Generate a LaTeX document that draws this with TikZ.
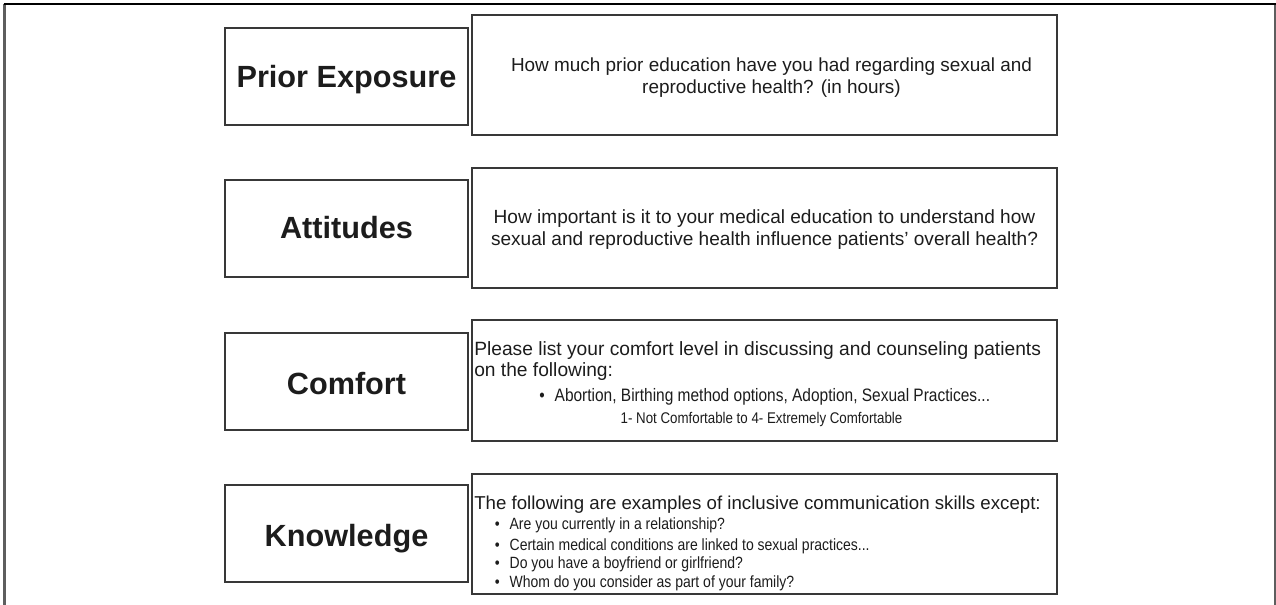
\documentclass[tikz,border=0pt]{standalone}
\usepackage{fontspec}
\setmainfont{Liberation Sans}
\newfontfamily\narrowfont[FakeStretch=0.86]{Liberation Sans}
\definecolor{boxline}{HTML}{383838}
\definecolor{ink}{HTML}{1C1C1C}
\definecolor{edge}{HTML}{5E5E5E}
\begin{document}
\begin{tikzpicture}[x=0.75pt,y=-0.75pt,
  labelbox/.style={draw=boxline, line width=1.7pt, minimum width=182.25pt, minimum height=72.75pt, inner sep=0pt},
  qbox/.style={draw=boxline, line width=1.5pt, minimum width=438.75pt, minimum height=90pt, inner sep=0pt},
  labeltext/.style={font=\fontsize{23}{27}\selectfont\bfseries, text=ink, inner sep=0pt, anchor=base},
  qline/.style={font=\fontsize{14.2}{17}\selectfont, text=ink, inner sep=0pt},
  bulletline/.style={font=\narrowfont\fontsize{13.5}{16}\selectfont, text=ink, inner sep=0pt},
  smallline/.style={font=\narrowfont\fontsize{12.2}{15}\selectfont, text=ink, inner sep=0pt},
  tinyline/.style={font=\narrowfont\fontsize{11.6}{14}\selectfont, text=ink, inner sep=0pt}]
\useasboundingbox (0,0) rectangle (1276,605);
% page frame
\draw[edge, line width=1.6pt] (4.5,4) -- (4.5,605);
\draw[edge, line width=1.2pt] (1274.8,4) -- (1274.8,605);
\draw[black, line width=1.8pt] (3.5,4.2) -- (1275.5,4.2);

% row 1: prior exposure
\node[labelbox] (lb1) at (346.5,76.5) {};
\node[qbox] (qb1) at (764.5,75.5) {};
\node[labeltext] (lt1) at (346.5,88) {Prior Exposure};
\node[qline, anchor=base] (q1a) at (771.5,72) {How much prior education have you had regarding sexual and};
\node[qline, anchor=base] (q1b) at (771.5,94) {reproductive health? (in hours)};

% row 2: attitudes
\node[labelbox] (lb2) at (346.5,228.5) {};
\node[qbox] (qb2) at (764.5,228) {};
\node[labeltext] (lt2) at (346.5,239) {Attitudes};
\node[qline, anchor=base, font=\fontsize{14.3}{17}\selectfont] (q2a) at (764.5,224) {How important is it to your medical education to understand how};
\node[qline, anchor=base, font=\fontsize{14.3}{17}\selectfont] (q2b) at (764.5,246) {sexual and reproductive health influence patients’ overall health?};

% row 3: comfort
\node[labelbox] (lb3) at (346.5,381.5) {};
\node[qbox] (qb3) at (764.5,380.5) {};
\node[labeltext] (lt3) at (346.5,394) {Comfort};
\node[qline, anchor=base west, font=\fontsize{14.4}{17}\selectfont] (q3a) at (474,356) {Please list your comfort level in discussing and counseling patients};
\node[qline, anchor=base west, font=\fontsize{14.4}{17}\selectfont] (q3b) at (474,377) {on the following:};
\node[bulletline, anchor=base west] (q3c) at (539,401) {•\hspace{7.5pt}Abortion, Birthing method options, Adoption, Sexual Practices...};
\node[tinyline, anchor=base] (q3d) at (761.5,423) {1- Not Comfortable to 4- Extremely Comfortable};

% row 4: knowledge
\node[labelbox] (lb4) at (346.5,533.5) {};
\node[qbox] (qb4) at (764.5,533.5) {};
\node[labeltext] (lt4) at (346.5,546) {Knowledge};
\node[qline, anchor=base west, font=\fontsize{14.0}{17}\selectfont] (q4a) at (474,509) {The following are examples of inclusive communication skills except:};
\node[smallline, anchor=base west] (q4b) at (494.5,529.5) {•\hspace{7.5pt}Are you currently in a relationship?};
\node[smallline, anchor=base west] (q4c) at (494.5,550) {•\hspace{7.5pt}Certain medical conditions are linked to sexual practices...};
\node[smallline, anchor=base west] (q4d) at (494.5,568.5) {•\hspace{7.5pt}Do you have a boyfriend or girlfriend?};
\node[smallline, anchor=base west] (q4e) at (494.5,587.5) {•\hspace{7.5pt}Whom do you consider as part of your family?};
\end{tikzpicture}
\end{document}
